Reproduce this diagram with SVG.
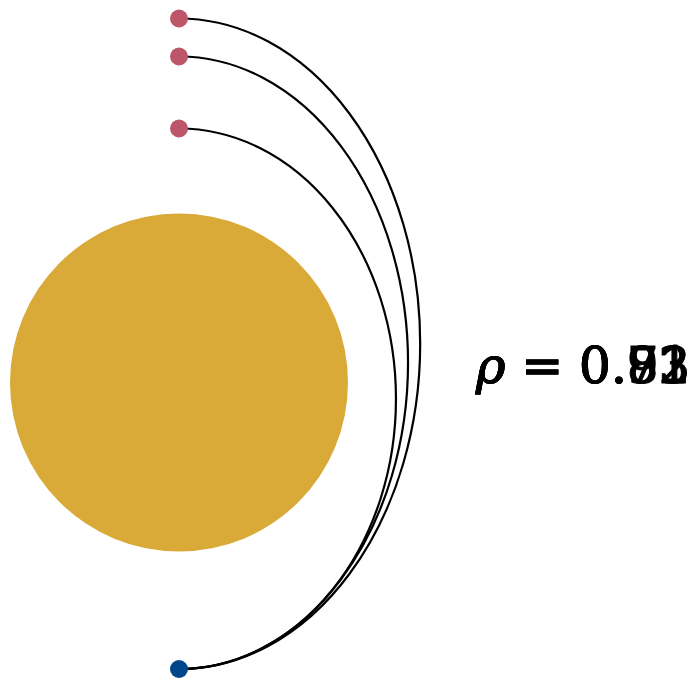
<svg xmlns="http://www.w3.org/2000/svg" width="689" height="681" viewBox="0 0 689 681">
<style>
.edge{fill:none;stroke:#000;stroke-width:2.2}
.src{fill:#BD5668}
.dst{fill:#00468B}
.lbl{font-family:"DejaVu Serif","Liberation Serif",serif;font-size:50px;fill:#000;stroke:#000;stroke-width:1}
</style>
<rect width="689" height="681" fill="#fff"/>
<g id="big"><circle cx="179" cy="382.5" r="169" fill="#D9AA37"/></g>
<g id="connectors">
<path class="edge" d="M179,18.5 A241,325 0 0 1 179,669"/>
<path class="edge" d="M179,56.5 A229,306.2 0 0 1 179,669"/>
<path class="edge" d="M179,128.5 A217,270.2 0 0 1 179,669"/>
</g>
<g id="n1"><circle class="src" cx="179" cy="18.5" r="9"/></g>
<g id="n2"><circle class="src" cx="179" cy="56.5" r="9"/></g>
<g id="n3"><circle class="src" cx="179" cy="128.5" r="9"/></g>
<g id="n4"><circle class="dst" cx="179" cy="669" r="9"/></g>
<g id="labels">
<text class="lbl" x="476" y="383"><tspan font-style="italic">ρ</tspan> = 0.83</text>
<text class="lbl" x="476" y="383"><tspan font-style="italic">ρ</tspan> = 0.72</text>
<text class="lbl" x="476" y="383"><tspan font-style="italic">ρ</tspan> = 0.91</text>
</g>
</svg>
